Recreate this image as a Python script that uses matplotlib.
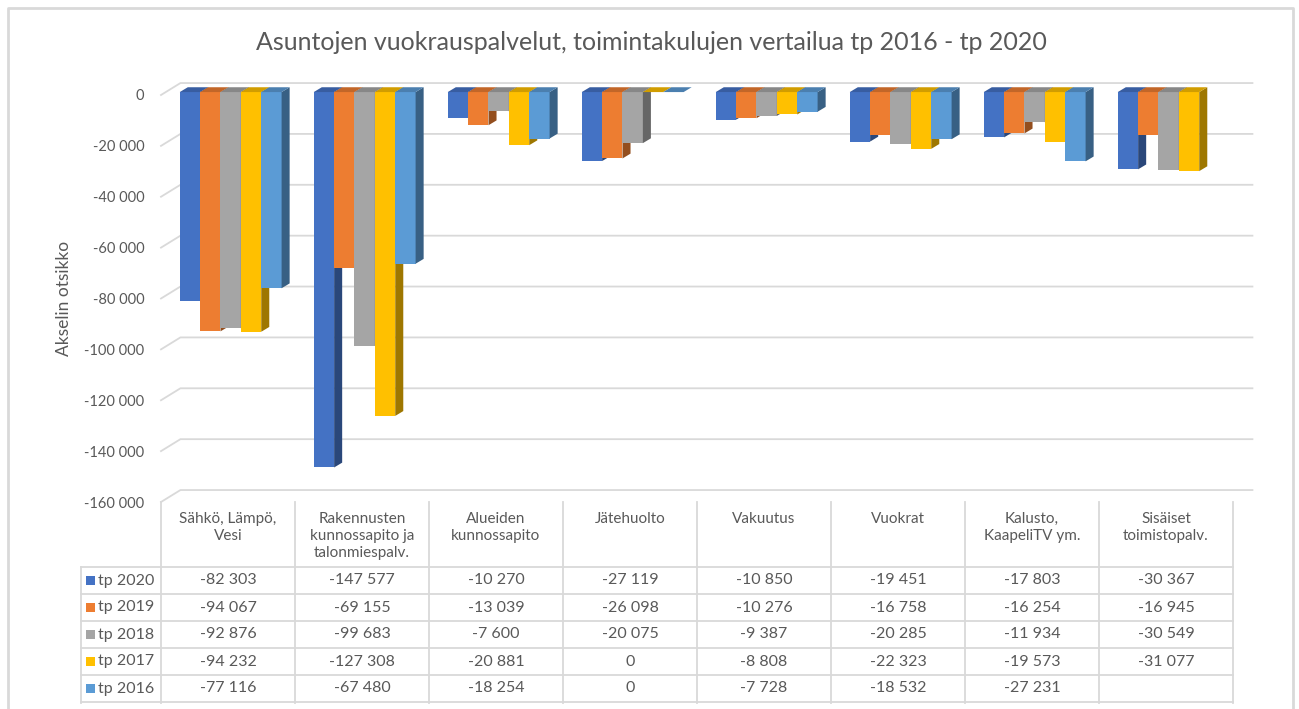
import numpy as np
import matplotlib.pyplot as plt
from matplotlib.patches import Polygon, Rectangle
from matplotlib.lines import Line2D

plt.rcParams['font.family'] = ['Lato', 'DejaVu Sans']

# Data
categories = ["Sähkö, Lämpö,\nVesi", "Rakennusten\nkunnossapito ja\ntalonmiespalv.",
              "Alueiden\nkunnossapito", "Jätehuolto", "Vakuutus", "Vuokrat",
              "Kalusto,\nKaapeliTV ym.", "Sisäiset\ntoimistopalv."]
series = ["tp 2020", "tp 2019", "tp 2018", "tp 2017", "tp 2016"]
tp2020 = [-82303, -147577, -10270, -27119, -10850, -19451, -17803, -30367]
tp2019 = [-94067, -69155, -13039, -26098, -10276, -16758, -16254, -16945]
tp2018 = [-92876, -99683, -7600, -20075, -9387, -20285, -11934, -30549]
tp2017 = [-94232, -127308, -20881, 0, -8808, -22323, -19573, -31077]
tp2016 = [-77116, -67480, -18254, 0, -7728, -18532, -27231, None]
values = [tp2020, tp2019, tp2018, tp2017, tp2016]
colors = ["#4472C4", "#ED7D31", "#A5A5A5", "#FFC000", "#5B9BD5"]

W, H = 1299, 709
fig = plt.figure(figsize=(W / 100, H / 100), dpi=100)
txt = "#595959"
grid_c = "#d9d9d9"


def fmt(v):
    return f"{v:,}".replace(",", " ")


def shade(c, f):
    r, g, b = [int(c[i:i + 2], 16) / 255 for i in (1, 3, 5)]
    return (r * f, g * f, b * f)


# main chart axes (front plane)
x0p, x1p, y0p, y1p = 161, 161 + 8 * 134, 95, 502
ax = fig.add_axes([x0p / W, 1 - y1p / H, (x1p - x0p) / W, (y1p - y0p) / H])
ax.set_xlim(0, 8)
ax.set_ylim(-160000, 0)
for s in ax.spines.values():
    s.set_visible(False)
ax.set_xticks([])
ticks = list(range(-160000, 1, 20000))
ax.set_yticks(ticks)
ax.set_yticklabels([fmt(t) for t in ticks], fontsize=10.5, color=txt)
ax.tick_params(axis='y', length=0, pad=12)
ax.set_ylabel("Akselin otsikko", fontsize=12.5, color=txt, labelpad=9)
ax.patch.set_visible(False)

# back wall offset
gx, gy = 0.145, 4700
for t in ticks:
    ax.add_line(Line2D([0, gx, 8 + gx], [t, t + gy, t + gy], color=grid_c,
                       lw=1.3, zorder=0.5, clip_on=False))

# 3D bars
bw = 0.152
dx, dy = 0.06, 1900
yb = 1150
for i in range(len(categories)):
    for j, s in enumerate(series):
        v = values[j][i]
        if v is None:
            continue
        c = colors[j]
        xl = i + 0.14 + j * bw
        ax.bar(xl, v, width=bw, bottom=yb, align='edge', color=c, lw=0,
               zorder=1, clip_on=False)
        ax.add_patch(Polygon([(xl + bw, yb), (xl + bw + dx, yb + dy),
                              (xl + bw + dx, yb + v + dy), (xl + bw, yb + v)],
                             closed=True, color=shade(c, 0.62), lw=0,
                             zorder=1, clip_on=False))
        ax.add_patch(Polygon([(xl, yb), (xl + dx, yb + dy),
                              (xl + bw + dx, yb + dy), (xl + bw, yb)],
                             closed=True, color=shade(c, 0.82), lw=0,
                             zorder=1, clip_on=False))

# overlay in pixel coordinates for table, title and frame
ov = fig.add_axes([0, 0, 1, 1])
ov.set_xlim(0, W)
ov.set_ylim(H, 0)
ov.axis('off')
ov.patch.set_visible(False)

ov.add_line(Line2D([8, 8, 1293, 1293], [H, 8, 8, H], color=grid_c, lw=2))

ov.text(651, 42, "Asuntojen vuokrauspalvelut, toimintakulujen vertailua tp 2016 - tp 2020",
        ha='center', va='center', fontsize=18, color=txt)

tab_c = "#d9d9d9"
row_top = 567
row_h = 27
col_w = 134
leg_x = 81
# vertical lines
for k in range(9):
    xk = x0p + k * col_w
    ov.add_line(Line2D([xk, xk], [502, row_top + 5 * row_h + 1], color=tab_c, lw=1.3))
ov.add_line(Line2D([leg_x, leg_x], [row_top, row_top + 5 * row_h + 1], color=tab_c, lw=1.3))
for r in range(6):
    yr = row_top + r * row_h
    ov.add_line(Line2D([leg_x, x0p + 8 * col_w], [yr, yr], color=tab_c, lw=1.3))

for i, cat in enumerate(categories):
    ov.text(x0p + (i + 0.5) * col_w, 512, cat, ha='center', va='top',
            fontsize=11, color=txt, linespacing=1.25)

for j, s in enumerate(series):
    yc = row_top + (j + 0.5) * row_h
    ov.add_patch(Rectangle((86, yc - 5), 9, 9, color=colors[j], lw=0))
    ov.text(98, yc, s, ha='left', va='center', fontsize=11.5, color=txt)
    for i in range(len(categories)):
        v = values[j][i]
        if v is None:
            continue
        ov.text(x0p + (i + 0.5) * col_w, yc, fmt(v), ha='center', va='center',
                fontsize=11.5, color=txt)

fig.savefig("out.png", dpi=100)
